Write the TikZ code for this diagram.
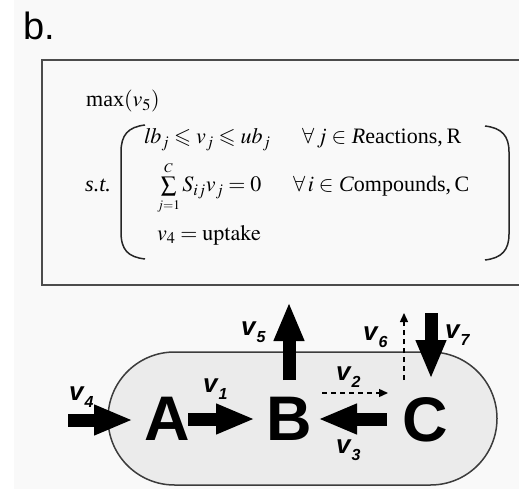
\documentclass[tikz,border=0pt]{standalone}
\usepackage{amssymb}
\usepackage{mathptmx}
\usepackage{fontspec}
\setmainfont{Liberation Serif}
\newfontfamily\hv{Liberation Sans}
\usetikzlibrary{arrows.meta}
\definecolor{bgc}{RGB}{249,249,249}
\definecolor{cellc}{RGB}{235,235,235}
\definecolor{linec}{RGB}{60,60,60}
\newcommand\vl[1]{v\kern1pt\raisebox{-7pt}{\fontsize{16}{16}\selectfont #1}}
\newcommand\mi[1]{\mathit{#1}}
\tikzset{
  blockarrow/.style={line width=13pt, -{Triangle[length=39pt,width=28pt]}},
  dasharrow/.style={line width=1.4pt, dash pattern=on 5pt off 4pt, -{Triangle[length=9pt,width=8pt]}},
  letter/.style={font=\hv\bfseries\fontsize{63}{63}\selectfont, anchor=base, inner sep=0pt},
  vlab/.style={font=\hv\bfseries\itshape\fontsize{26}{26}\selectfont, anchor=base west, inner sep=0pt},
  ftext/.style={font=\fontsize{22}{26}\selectfont, anchor=base west, inner sep=0pt},
  boxline/.style={draw=black!70, line width=2pt},
  bracket/.style={draw=black!85, line width=1.5pt}
}
\begin{document}
\begin{tikzpicture}[x=1pt,y=-1pt]
\useasboundingbox (0,0) rectangle (519,489);
\clip (0,0) rectangle (519,489);
\fill[bgc] (14,0) rectangle (519,489);
% label
\node[anchor=base west, inner sep=0pt, font=\hv\fontsize{38}{38}\selectfont] (lab) at (23,40) {b.};
% formula box
\draw[boxline] (530,60) -- (42,60) -- (42,285) -- (530,285);
\node[ftext] (fmax) at (86,107) {max$(\mi{v}_5)$};
\node[ftext] (fst) at (85,192) {\textit{s.t.}};
\node[ftext] (r1a) at (144,144) {$\mi{lb}_{\smash{j}}\leqslant v_{\smash{j}}\leqslant \mi{ub}_{\smash{j}}$};
\node[ftext] (r1b) at (302,144) {$\forall\,j\in$ \textit{R}eactions,\,R};
\node[ftext] (r2a) at (157,192) {$\sum\limits_{\scriptscriptstyle j=1}^{\smash{\scriptscriptstyle C}}S_{ij}v_j=0$};
\node[ftext] (r2b) at (293,192) {$\forall\,i\in$ \textit{C}ompounds,\,C};
\node[ftext] (r3a) at (157,240) {$v_4=\mathrm{uptake}$};
\draw[bracket] (145,125) .. controls (128,127) and (121,135) .. (121,152) -- (121,232) .. controls (121,250) and (128,257) .. (145,259);
\draw[bracket] (485,126) .. controls (502,128) and (509,136) .. (509,152) -- (509,234) .. controls (509,250) and (502,258) .. (485,260);
% cell
\draw[fill=cellc, draw=linec, line width=1.5pt, rounded corners=66.5pt] (108,352) rectangle (497,485);
% metabolites
\node[letter] (A) at (167,440) {A};
\node[letter] (B) at (289,440) {B};
\node[letter] (C) at (425,441) {C};
% arrow ends
\coordinate (v4s) at (68,420);  \coordinate (v4e) at (133,420);
\coordinate (v1s) at (188,419); \coordinate (v1e) at (255,419);
\coordinate (v3s) at (387,419); \coordinate (v3e) at (318,419);
\coordinate (v2s) at (322,393); \coordinate (v2e) at (388,393);
\coordinate (v5s) at (289,380); \coordinate (v5e) at (289,302);
\coordinate (v6s) at (404,380); \coordinate (v6e) at (404,313);
\coordinate (v7s) at (431,313); \coordinate (v7e) at (431,379);
\draw[blockarrow] (v4s) -- (v4e);
\draw[blockarrow] (v1s) -- (v1e);
\draw[blockarrow] (v3s) -- (v3e);
\draw[blockarrow] (v5s) -- (v5e);
\draw[blockarrow] (v7s) -- (v7e);
\draw[dasharrow] (v2s) -- (v2e);
\draw[dasharrow] (v6s) -- (v6e);
% flux labels
\node[vlab] (l4) at (69,400) {\vl{4}};
\node[vlab] (l1) at (203,392) {\vl{1}};
\node[vlab] (l5) at (241,335) {\vl{5}};
\node[vlab] (l6) at (363,340) {\vl{6}};
\node[vlab] (l7) at (445,338) {\vl{7}};
\node[vlab] (l2) at (336,380) {\vl{2}};
\node[vlab] (l3) at (336,453) {\vl{3}};
\end{tikzpicture}
\end{document}
